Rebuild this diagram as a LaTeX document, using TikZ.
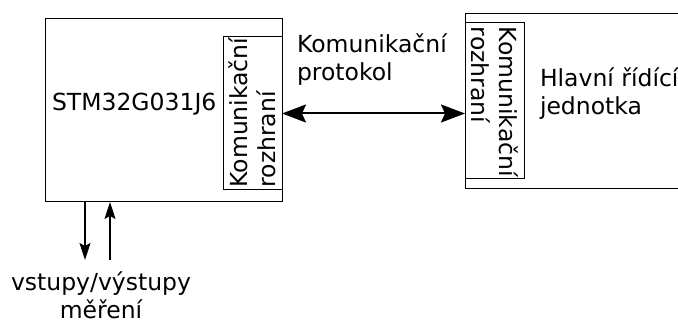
\documentclass[tikz,border=0pt]{standalone}
\usepackage{fontspec}
\setmainfont{DejaVu Sans}
\usetikzlibrary{arrows.meta,positioning}

\begin{document}
\begin{tikzpicture}[x=1pt,y=-1pt,
  every node/.style={font=\fontsize{23.5}{28}\selectfont,inner sep=0pt,outer sep=0pt},
  blok/.style={draw,line width=1pt,anchor=north west},
  rozhr/.style={draw,line width=1pt,text width=148pt,align=left,
    minimum height=59pt},
  sbernice/.style={line width=2pt,{Stealth[length=24pt,width=18pt,inset=4pt]}-{Stealth[length=24pt,width=18pt,inset=4pt]}},
  signal/.style={line width=1.3pt,-{Stealth[length=17pt,width=11pt,inset=3pt]}}]
\useasboundingbox (0,0) rectangle (678,323);
\clip (0,0) rectangle (678,323);
% mikrokontroler
\node[blok,minimum width=237pt,minimum height=183pt] (mcu) at (45,19) {};
\node[anchor=west] (mcutext) at (52,104) {STM32G031J6};
\node[rozhr,rotate=90,minimum width=153pt] (if1) at (252.5,113.5) {Komunikační\\rozhraní};
% ridici jednotka
\node[blok,minimum width=240pt,minimum height=175pt] (ridici) at (465,14) {};
\node[anchor=north west,align=left] (ridicitext) at (540,68) {Hlavní řídící\\jednotka};
\node[rozhr,rotate=-90,minimum width=156pt] (if2) at (494.5,101) {Komunikační\\rozhraní};
% komunikace
\draw[sbernice] (if1.south) -- (if1.south -| if2.south);
\node[anchor=north west,align=left] (protokol) at (297,34) {Komunikační\\protokol};
% vstupy a vystupy
\node[align=center,anchor=north] (io) at (101,272) {vstupy/výstupy\\měření};
\coordinate (ioA) at (85,260);
\coordinate (ioB) at (110,260);
\draw[signal] (mcu.south -| ioA) -- (ioA);
\draw[signal] (ioB) -- (mcu.south -| ioB);
\end{tikzpicture}
\end{document}
